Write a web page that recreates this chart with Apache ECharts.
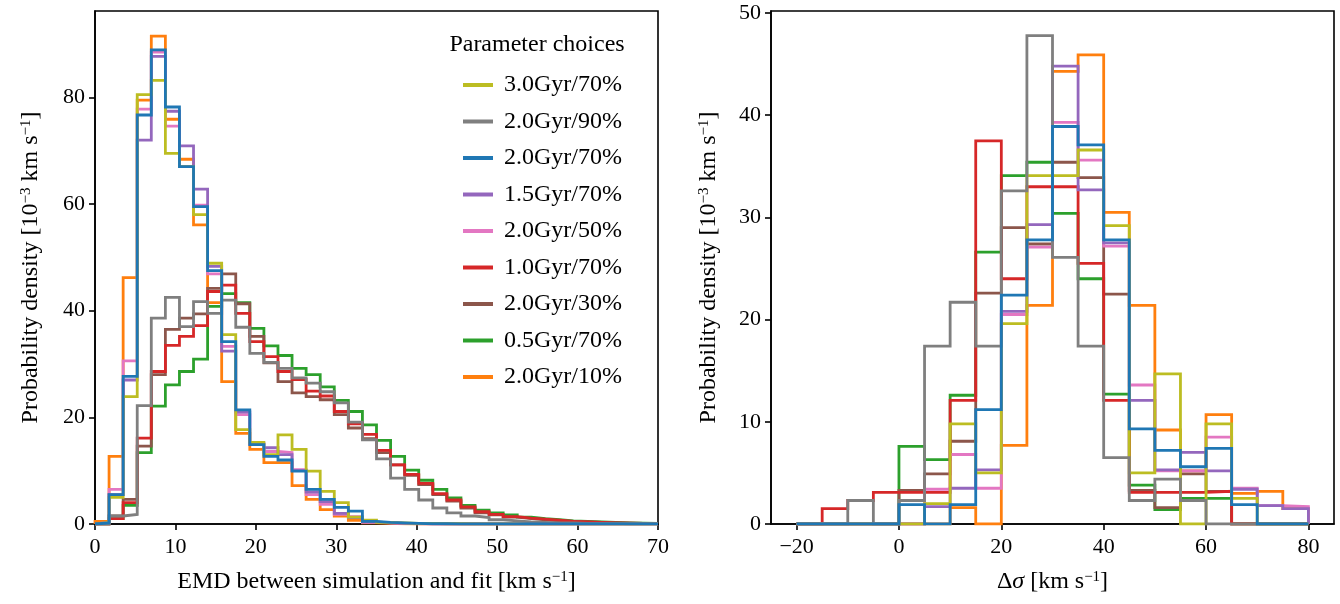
<!DOCTYPE html>
<html><head><meta charset="utf-8">
<script src="https://cdn.jsdelivr.net/npm/echarts@6/dist/echarts.min.js"></script>
<style>html,body{margin:0;padding:0;background:#fff}#c{width:1340px;height:604px}</style>
</head><body><div id="c"></div>
<script>
// ---------- data ----------
const seriesNames = ['3.0Gyr/70%','2.0Gyr/90%','2.0Gyr/70%','1.5Gyr/70%','2.0Gyr/50%','1.0Gyr/70%','2.0Gyr/30%','0.5Gyr/70%','2.0Gyr/10%'];
const seriesColors = ['#bcbd22','#7f7f7f','#1f77b4','#9467bd','#e377c2','#d62728','#8c564b','#2ca02c','#ff7f0e'];

// left panel: EMD histogram, 40 bins of width 1.75 from 0 to 70
const leftBinStart = 0, leftBinWidth = 1.75, leftBinCount = 40;
const leftYellow = [0.3,5.0,23.9,80.5,83.2,69.5,67.0,58.0,48.9,35.5,17.7,15.3,13.0,16.7,14.0,9.9,6.1,4.0,1.3,0.7,0.3,0.2,0.1,0.1,0.05,0.05,0,0,0,0,0,0,0,0,0,0,0,0,0,0];
const leftGray   = [0,1.5,1.8,22.2,38.6,42.5,37.0,41.7,39.5,42.0,36.9,32.0,30.3,29.2,27.4,26.4,24.8,22.7,19.1,15.8,12.2,8.6,6.5,4.5,3.0,2.1,1.5,1.2,0.8,0.6,0.4,0.3,0.2,0.2,0.1,0.1,0.1,0.05,0.05,0.03];
const leftBlue   = [0.2,5.5,27.7,76.7,88.9,78.2,67.0,59.5,47.5,34.2,21.4,14.9,12.7,12.0,9.9,6.5,4.6,3.1,2.4,0.5,0.3,0.2,0.1,0.05,0.05,0,0,0,0,0,0,0,0,0,0,0,0,0,0,0];
const leftPurple = [0.3,5.5,27.0,72.0,87.7,77.4,70.9,62.8,48.3,32.4,21.0,15.0,14.3,13.0,10.0,6.0,4.2,2.0,1.2,0.4,0.2,0.1,0.1,0.05,0,0,0,0,0,0,0,0,0,0,0,0,0,0,0,0];
const leftPink   = [0.3,6.5,30.6,77.8,88.5,74.6,67.0,59.8,46.9,33.3,20.5,15.0,13.6,13.4,10.2,5.5,3.7,1.8,1.4,0.3,0.2,0.1,0.05,0,0,0,0,0,0,0,0,0,0,0,0,0,0,0,0,0];
const leftRed    = [0,1.0,4.0,16.1,28.6,33.5,35.2,37.2,43.6,44.8,39.5,34.2,31.4,28.6,27.1,24.9,24.0,21.1,18.8,16.8,13.8,11.1,9.3,7.6,5.7,4.5,3.2,2.3,1.8,1.4,1.1,0.9,0.7,0.5,0.4,0.3,0.2,0.15,0.1,0.1];
const leftBrown  = [0,1.5,4.6,14.6,28.0,36.5,38.6,39.4,44.2,46.9,41.3,35.2,30.2,26.7,24.6,23.9,23.3,20.5,18.0,16.0,13.4,11.1,9.1,7.4,5.5,4.3,3.0,2.1,1.7,1.3,1.0,0.8,0.6,0.5,0.4,0.3,0.2,0.15,0.1,0.1];
const leftGreen  = [0,1.0,3.5,13.4,22.1,26.1,28.6,30.9,40.8,43.2,41.5,36.7,33.4,31.6,29.2,28.0,25.7,23.2,21.1,18.6,15.7,12.7,10.1,8.2,6.5,4.9,3.5,2.6,2.1,1.7,1.3,1.0,0.8,0.6,0.5,0.4,0.3,0.2,0.15,0.1];
const leftOrange = [0.5,12.7,46.2,79.5,91.5,75.9,68.4,56.1,41.5,26.7,17.0,14.0,11.5,11.5,7.2,4.6,2.7,1.5,0.7,0.2,0.1,0.05,0,0,0,0,0,0,0,0,0,0,0,0,0,0,0,0,0,0];

// right panel: delta sigma histogram, 20 bins of width 5 from -20 to 80
const rightBinStart = -20, rightBinWidth = 5, rightBinCount = 20;
const rightYellow = [0,0,0,0,0,2.0,9.8,5.0,19.6,34.1,34.1,36.6,29.2,5.0,14.7,0,9.8,2.5,0,0];
const rightGray   = [0,0,2.3,0,2.3,17.4,21.7,17.4,32.6,47.8,26.1,17.4,6.5,2.3,4.4,2.3,0,0,0,0];
const rightBlue   = [0,0,0,0,1.9,0,1.9,11.2,22.4,27.8,38.9,37.1,27.8,9.3,7.2,5.6,7.4,1.9,0,0];
const rightPurple = [0,0,0,0,0,1.7,3.5,5.3,20.8,29.3,44.8,32.7,27.5,12.1,5.3,7.0,5.2,3.4,1.8,1.5];
const rightPink   = [0,0,0,0,0,3.4,6.8,3.5,20.5,27.1,39.3,35.6,27.2,13.6,5.2,5.2,8.5,3.5,1.8,1.7];
const rightRed    = [0,1.5,2.3,3.1,3.1,3.1,12.1,37.5,24.0,33.0,33.0,25.5,12.1,3.1,3.1,3.1,3.2,0,0,0];
const rightBrown  = [0,0,0,0,3.3,4.9,8.1,22.6,29.0,27.4,35.4,33.9,22.5,3.3,1.6,4.9,3.2,0,0,0];
const rightGreen  = [0,0,0,0,7.6,6.3,12.6,26.6,34.1,35.4,30.4,24.0,12.7,3.8,1.4,2.5,2.5,0,0,0];
const rightOrange = [0,0,0,0,0,0,1.6,0,7.7,21.4,44.3,45.9,30.5,21.4,9.2,5.2,10.7,3.0,3.2,1.5];

const leftXTicks = [0,10,20,30,40,50,60,70];
const leftYTicks = [0,20,40,60,80];
const rightXTicks = [-20,0,20,40,60,80];
const rightYTicks = [0,10,20,30,40,50];

// ---------- build ----------
const FONT = 'Liberation Serif';
function edges(start, w, n){ const e=[]; for(let i=0;i<=n;i++) e.push(start+i*w); return e; }
function stepPoints(ed, vals){
  const pts=[[ed[0],0]];
  vals.forEach((v,i)=>{ pts.push([ed[i],v]); pts.push([ed[i+1],v]); });
  pts.push([ed[vals.length],0]);
  return pts;
}
const leftEdges = edges(leftBinStart, leftBinWidth, leftBinCount);
const rightEdges = edges(rightBinStart, rightBinWidth, rightBinCount);
const leftData = [leftYellow,leftGray,leftBlue,leftPurple,leftPink,leftRed,leftBrown,leftGreen,leftOrange];
const rightData = [rightYellow,rightGray,rightBlue,rightPurple,rightPink,rightRed,rightBrown,rightGreen,rightOrange];
// drawing order (bottom -> top)
const drawOrder = [8,7,6,5,4,3,0,1,2];

const series = [];
[[leftData,leftEdges,0],[rightData,rightEdges,1]].forEach(([arr,ed,gi])=>{
  drawOrder.forEach(k=>{
    series.push({
      name: seriesNames[k], type:'line', xAxisIndex:gi, yAxisIndex:gi,
      data: stepPoints(ed, arr[k]), symbol:'none', showSymbol:false,
      lineStyle:{width:2.8, color:seriesColors[k], join:'miter', cap:'butt'},
      itemStyle:{color:seriesColors[k]}, animation:false, silent:true
    });
  });
});

const minus = v => String(v).replace('-', '\u2212');
function axisCommon(){
  return {
    type:'value', splitLine:{show:false},
    axisLine:{show:true, onZero:false, lineStyle:{color:'#000', width:1.6}},
    nameTextStyle:{fontFamily:FONT, fontSize:24, color:'#000',
      rich:{sup:{fontFamily:FONT, fontSize:15, color:'#000', verticalAlign:'top'},
            it:{fontFamily:FONT, fontSize:24, color:'#000', fontStyle:'italic'}}},
    nameLocation:'middle'
  };
}
function withTicks(ax, ticks, margin){
  ax.axisTick = {show:true, inside:false, length:6, lineStyle:{color:'#000', width:1.6}, customValues:ticks};
  ax.axisLabel = {show:true, customValues:ticks, fontFamily:FONT, fontSize:22, color:'#000', margin:margin, formatter:minus};
  return ax;
}

const yName = 'Probability density [10{sup|\u22123} km s{sup|\u22121}]';
const option = {
  animation:false,
  backgroundColor:'#fff',
  grid:[
    {left:95, top:11, width:563, height:513, show:true, borderColor:'#000', borderWidth:1.6, backgroundColor:'transparent'},
    {left:771, top:11, width:563, height:513, show:true, borderColor:'#000', borderWidth:1.6, backgroundColor:'transparent'}
  ],
  xAxis:[
    Object.assign(withTicks(axisCommon(), leftXTicks, 12), {gridIndex:0, min:0, max:70,
      name:'EMD between simulation and fit [km s{sup|\u22121}]', nameGap:46}),
    Object.assign(withTicks(axisCommon(), rightXTicks, 12), {gridIndex:1, min:-25, max:85,
      name:'\u0394{it|\u03c3} [km s{sup|\u22121}]', nameGap:46})
  ],
  yAxis:[
    Object.assign(withTicks(axisCommon(), leftYTicks, 10), {gridIndex:0, min:0, max:96.2,
      name:yName, nameGap:52, nameRotate:90}),
    Object.assign(withTicks(axisCommon(), rightYTicks, 10), {gridIndex:1, min:0, max:50.2,
      name:yName, nameGap:50, nameRotate:90})
  ],
  legend:{
    show:true, orient:'vertical', left:458, top:67, data:seriesNames,
    icon:'rect', itemWidth:30, itemHeight:4, itemGap:10.5, selectedMode:false,
    textStyle:{fontFamily:FONT, fontSize:24, color:'#000', lineHeight:26, padding:[0,0,0,6]}
  },
  graphic:[{type:'text', x:537, y:45, style:{text:'Parameter choices', fontFamily:FONT, fontSize:24, fill:'#000', align:'center', verticalAlign:'middle'}}],
  series:series
};
const chart = echarts.init(document.getElementById('c'), null, {renderer:'canvas'});
chart.setOption(option);
</script></body></html>
